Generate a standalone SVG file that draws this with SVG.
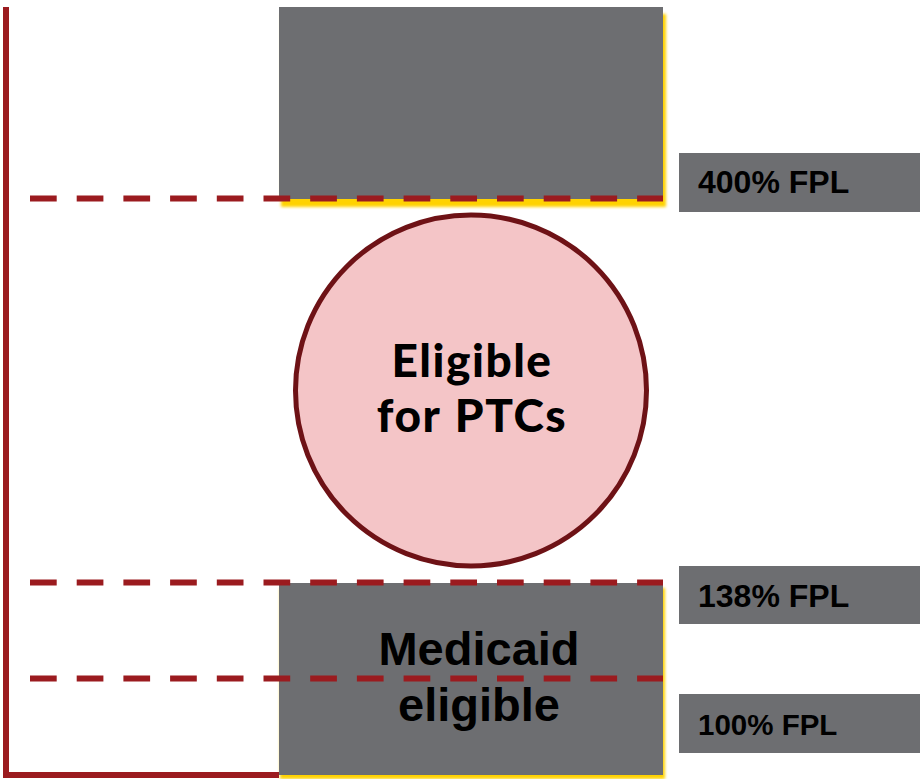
<svg xmlns="http://www.w3.org/2000/svg" width="922" height="779" viewBox="0 0 922 779">
  <defs>
    <filter id="glow" x="-10%" y="-10%" width="120%" height="130%">
      <feGaussianBlur stdDeviation="1.8"/>
    </filter>
    <style>
      .band { fill: #6d6e71; }
      .glow { fill: #ffd200; filter: url(#glow); }
      .dash { stroke: #9b1b1f; stroke-width: 6; stroke-dasharray: 26.7 20; fill: none; }
      .rail { stroke: #9b1b1f; stroke-width: 6; fill: none; }
      .lbl { fill: #6d6e71; }
      .lbltxt { font-family: "Liberation Sans", Arial, sans-serif; font-weight: bold; fill: #000; }
      .big { font-family: "Liberation Sans", Arial, sans-serif; font-weight: bold; font-size: 47px; fill: #000; text-anchor: middle; }
      .ptc { font-family: Lato, "Open Sans", sans-serif; font-weight: 900; font-size: 46px; letter-spacing: 1.5px; word-spacing: 2px; fill: #000; text-anchor: middle; }
    </style>
  </defs>

  <g id="above-400">
    <rect class="glow" x="281" y="14" width="385" height="193"/>
    <rect class="band" x="279" y="7" width="384" height="192"/>
  </g>

  <g id="medicaid">
    <rect class="glow" x="280" y="588" width="385" height="191"/>
    <rect class="band" x="279" y="583" width="384" height="192"/>
    <text class="big" x="479" y="665">Medicaid</text>
    <text class="big" x="479" y="721">eligible</text>
  </g>

  <g id="connectors">
    <path class="rail" d="M6,7 V775 H279"/>
    <line class="dash" x1="30" y1="198.5" x2="663" y2="198.5"/>
    <line class="dash" x1="30" y1="582.5" x2="663" y2="582.5"/>
    <line class="dash" x1="30" y1="678.5" x2="663" y2="678.5"/>
  </g>

  <g id="ptc">
    <circle cx="471" cy="390.5" r="175.5" fill="#f4c5c7" stroke="#6e1216" stroke-width="5"/>
    <text class="ptc" x="472" y="377">Eligible</text>
    <text class="ptc" x="472" y="432">for PTCs</text>
  </g>

  <g id="fpl-400">
    <rect class="lbl" x="679" y="153" width="241" height="59"/>
    <text class="lbltxt" x="698" y="193" font-size="32">400% FPL</text>
  </g>
  <g id="fpl-138">
    <rect class="lbl" x="679" y="566" width="241" height="58"/>
    <text class="lbltxt" x="698" y="607" font-size="32">138% FPL</text>
  </g>
  <g id="fpl-100">
    <rect class="lbl" x="679" y="694" width="241" height="59"/>
    <text class="lbltxt" x="698" y="735" font-size="29.5">100% FPL</text>
  </g>
</svg>
